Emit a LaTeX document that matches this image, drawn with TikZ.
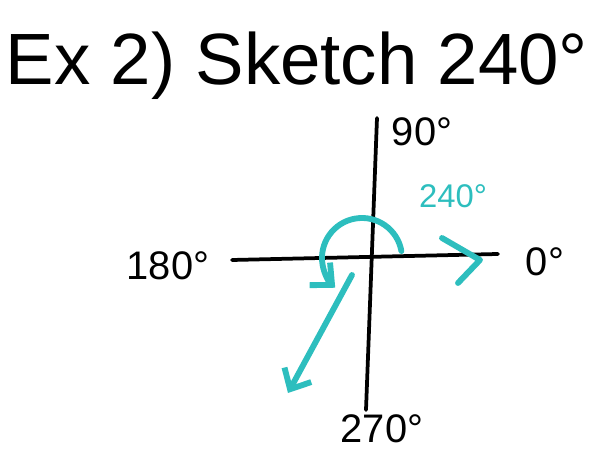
\documentclass[tikz,border=0pt]{standalone}
\usepackage{fontspec}
\setmainfont{Liberation Sans}
\usetikzlibrary{arrows.meta}

\definecolor{markerteal}{RGB}{45,190,190}
\tikzset{
  axisline/.style={line width=3.2pt, black, line cap=round},
  angleline/.style={line width=5pt, markerteal, line cap=round, -{Straight Barb[length=14pt, width=26pt, line width=5pt]}},
  deglabel/.style={font=\fontsize{34}{34}\selectfont},
}

\begin{document}
\begin{tikzpicture}[x=0.03cm, y=0.03cm]
  \useasboundingbox (0,0) rectangle (604,450);

  % title
  \node[font=\fontsize{62}{62}\selectfont] (title) at (297,384) {Ex 2) Sketch 240°};

  % axes
  \coordinate (left) at (232,190);
  \coordinate (right) at (498,196);
  \coordinate (top) at (377,332);
  \coordinate (bottom) at (366,40);
  \coordinate (origin) at (362,192);
  \draw[axisline] (left) -- (right);
  \draw[axisline] (top) -- (bottom);

  % degree labels
  \node[deglabel] (d90) at (422,318) {90°};
  \node[deglabel] (d180) at (168,184) {180°};
  \node[deglabel] (d0) at (545,188) {0°};
  \node[deglabel, inner sep=0pt] (d270) at (382,21) {270°};

  % the 240 angle
  \node[deglabel, markerteal, font=\fontsize{28}{28}\selectfont] (d240) at (453,254) {240°};
  \draw[angleline] (origin) ++(10:40) arc[start angle=10, end angle=228, radius=40];
  \draw[markerteal, line width=5pt, line cap=round, line join=round]
    (442,212) -- (480,190) -- (458,167);
  \coordinate (tip) at (288,57);
  \draw[angleline] ([shift={(-10,-17)}]origin) -- (tip);
\end{tikzpicture}
\end{document}
